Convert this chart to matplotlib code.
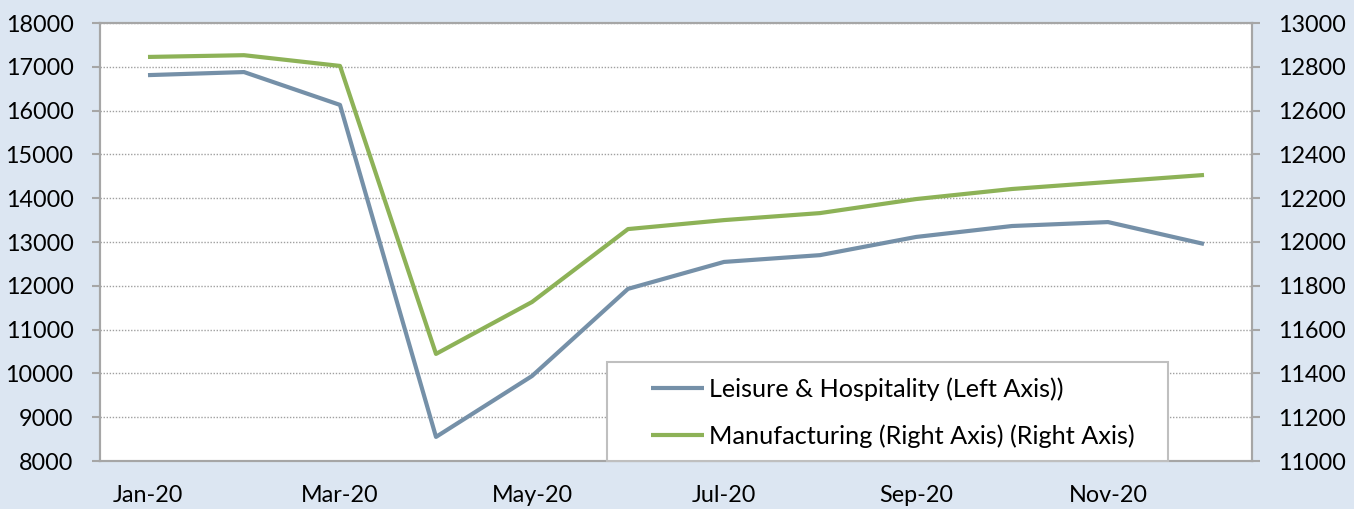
import matplotlib
matplotlib.use("Agg")
import matplotlib.pyplot as plt
from matplotlib.patches import Rectangle

plt.rcParams['font.family'] = ['Lato', 'DejaVu Sans']

months = ['Jan-20', 'Feb-20', 'Mar-20', 'Apr-20', 'May-20', 'Jun-20',
          'Jul-20', 'Aug-20', 'Sep-20', 'Oct-20', 'Nov-20', 'Dec-20']
leisure = [16810, 16880, 16130, 8550, 9940, 11930,
           12545, 12700, 13115, 13365, 13455, 12955]
manufacturing = [12845, 12853, 12804, 11489, 11726, 12059,
                 12100, 12132, 12196, 12242, 12274, 12306]
left_ticks = list(range(8000, 18001, 1000))
right_ticks = list(range(11000, 13001, 200))

bg = '#dce6f2'
blue = '#7590a8'
green = '#8db257'
gray = '#a6a6a6'
fs = 16.8
lfs = 18.2
em = lfs * 100 / 72

fig = plt.figure(figsize=(13.54, 5.09), dpi=100, facecolor=bg)
ax = fig.add_axes([100/1354, 1-461/509, 1152/1354, 438/509])
ax.set_facecolor('white')
x = list(range(len(months)))

ax.plot(x, leisure, color=blue, lw=3, solid_capstyle='butt', zorder=3,
        label='Leisure & Hospitality (Left Axis))')
ax.set_xlim(-0.5, 11.5)
ax.set_ylim(8000, 18000)
ax.set_yticks(left_ticks)
ax.set_xticks(x[::2])
ax.set_xticklabels(months[::2])
ax.tick_params(axis='x', length=0, pad=17, labelsize=fs)
ax.tick_params(axis='y', length=6, width=1.5, color=gray, pad=13, labelsize=fs)
ax.grid(axis='y', linestyle=(0, (1, 1.2)), color='#a0a0a0', lw=1)
ax.set_axisbelow(True)

ax2 = ax.twinx()
ax2.plot(x, manufacturing, color=green, lw=3, solid_capstyle='butt', zorder=3,
         label='Manufacturing (Right Axis) (Right Axis)')
ax2.set_ylim(11000, 13000)
ax2.set_yticks(right_ticks)
ax2.tick_params(axis='y', length=6, width=1.5, color=gray, pad=13, labelsize=fs)

for a in (ax, ax2):
    for s in a.spines.values():
        s.set_color(gray)
        s.set_linewidth(1.5)

# legend box
x0 = (607-100)/1152
w = (1168-607)/1152
h = (461-362)/438
ax2.add_patch(Rectangle((x0, 0), w, h, transform=ax2.transAxes,
                        facecolor='white', edgecolor='#bfbfbf', lw=1.5,
                        zorder=10, clip_on=False))
h1, l1 = ax.get_legend_handles_labels()
h2, l2 = ax2.get_legend_handles_labels()
leg = ax2.legend(h1 + h2, l1 + l2, loc='center left', frameon=False,
                 bbox_to_anchor=((651-100)/1152, (461-412.5)/438),
                 borderaxespad=0, borderpad=0, fontsize=lfs,
                 handlelength=53/em, handletextpad=5/em,
                 labelspacing=49/em - 1.0)
leg.set_zorder(11)

fig.savefig('out.png', dpi=100, facecolor=bg)
